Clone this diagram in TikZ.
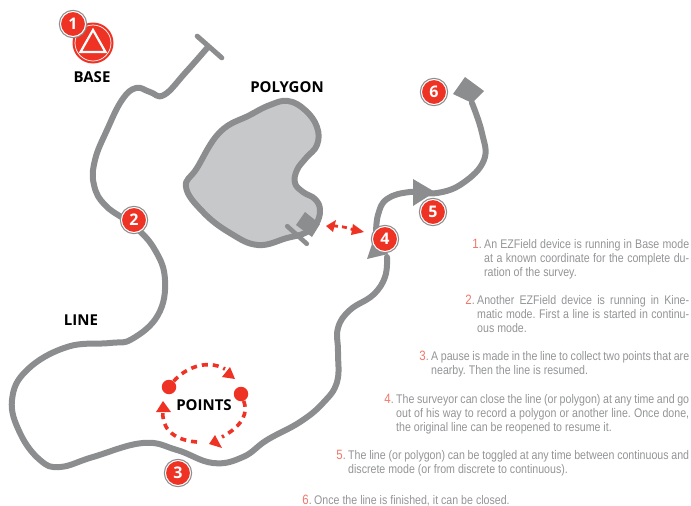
\documentclass[tikz,border=0pt]{standalone}
\usepackage{fontspec}
\usetikzlibrary{arrows.meta,calc}
\setmainfont{Liberation Sans}
\newfontfamily\headf{Open Sans}
\newfontfamily\narrowf[FakeStretch=0.85]{Liberation Sans}
\definecolor{rd}{HTML}{EE3224}
\definecolor{lg}{HTML}{8C8D8F}
\definecolor{pf}{HTML}{C7C8CA}
\definecolor{tx}{HTML}{939496}
\definecolor{nm}{HTML}{F0776A}
\frenchspacing
\newcommand{\jl}[2]{\makebox[#1pt][s]{#2}}
\newcommand{\nmb}[1]{\textcolor{nm}{\fontsize{13.5}{13.5}\selectfont #1}.}
\tikzset{
  trail/.style={draw=lg,line width=6pt,line join=round,line cap=round},
  tip/.style={fill=lg,draw=none},
  badge/.style={circle,fill=rd,draw=white,line width=1pt,minimum size=25pt,inner sep=0pt,text=white,
    font=\headf\bfseries\fontsize{16}{16}\selectfont,preaction={draw=lg,line width=3.4pt}},
  head/.style={font=\headf\bfseries\fontsize{15}{15}\selectfont,text=black,inner sep=0pt},
  para/.style={anchor=base west,inner sep=0pt,text=tx,font=\narrowf\fontsize{12.5}{12.5}\selectfont},
  num/.style={anchor=base east,inner sep=0pt,text=tx,font=\narrowf\fontsize{12.5}{12.5}\selectfont},
  reddash/.style={draw=rd,line width=3.6pt,dash pattern=on 6pt off 5pt},
  dot/.style={circle,fill=rd,minimum size=14.5pt,inner sep=0pt},
}
\begin{document}
\begin{tikzpicture}[x=1pt,y=-1pt]
\useasboundingbox (0,0) rectangle (691,506);
% polygon
\draw[trail,fill=pf] plot[smooth cycle,tension=0.7] coordinates {
 (250,115) (270,105) (288,101) (305,110) (317,127) (317,145) (306,158) (297,170) (295,183) (303,192) (315,199) (320,210) (316,224) (305,233) (287,238) (258,245) (230,233) (203,212) (186,187) (197,168) (220,132)};
% polygon end marker
\fill[lg] (305,212) -- (320,224) -- (312,237) -- (296,225) -- cycle;
\node[inner sep=0pt,minimum size=0pt] (pbar1) at (287,226) {};
\node[inner sep=0pt,minimum size=0pt] (pbar2) at (307,244) {};
\draw[trail,line width=4.6pt] (pbar1) -- (pbar2);
% main line, start to 4
\node[inner sep=0pt,minimum size=0pt] (tbar1) at (197,36) {};
\node[inner sep=0pt,minimum size=0pt] (tbar2) at (222,58) {};
\draw[trail] plot[smooth,tension=0.7] coordinates {
 (208,47) (186,72) (164,95) (150,92) (136,88) (122,100) (107,130) (95,160) (94,185) (106,206) (134,226) (155,250) (165,280) (158,315) (132,339) (110,343) (67,347) (27,370) (12,400) (20,433) (40,460) (60,467) (93,457) (143,443) (177,450) (213,463) (243,457) (267,440) (300,422) (323,403) (337,382) (338,352) (338,328) (350,310) (373,295) (385,277) (387,257)};
\draw[trail,line width=5pt] (tbar1) -- (tbar2);
% after 4
\draw[trail] plot[smooth,tension=0.7] coordinates {
 (376,235) (378,215) (387,199) (410,192) (437,193) (463,183) (484,160) (482,133) (472,103)};
\fill[lg] (465,77) -- (484,91) -- (472,103) -- (453,94) -- cycle;
\fill[tip] (367,259) -- (388,254) -- (376,232) -- cycle;
\fill[tip] (413,179) -- (413,206) -- (435,192) -- cycle;
% base
\node[circle,fill=rd,minimum size=41pt,inner sep=0pt] (baseout) at (93,43) {};
\node[circle,draw=white,line width=0.7pt,minimum size=36pt,inner sep=0pt] (basering) at (93,43) {};
\draw[white,line width=2.2pt,line join=miter] (93,30) -- (105.5,52) -- (80.5,52) -- cycle;
% badges
\node[badge] (b1) at (73,24) {1};
\node[badge] (b2) at (134,220) {2};
\node[badge] (b3) at (178,473) {3};
\node[badge] (b4) at (385,239) {4};
\node[badge] (b5) at (433,212) {5};
\node[badge] (b6) at (434,92) {6};
% labels
\node[head] (lbase) at (92,77) {BASE};
\node[head] (lpoly) at (287,87) {POLYGON};
\node[head] (lline) at (81,320) {LINE};
\node[head] (lpts) at (204,405) {POINTS};
% double arrow
\coordinate (da) at (326,226);
\coordinate (db) at (364,232);
\draw[reddash,line width=2.8pt,dash pattern=on 5pt off 4pt] ($(da)+(7,0)$) .. controls (338,226) and (348,227) .. ($(db)+(-8,-1)$);
\fill[rd] (da) -- (336,220) -- (333,232) -- cycle;
\fill[rd] (db) -- (353,224) -- (351,235) -- cycle;
% points
\node[dot] (d1) at (169,387) {};
\node[dot] (d2) at (241,394) {};
\coordinate (a1) at (235,379);
\coordinate (a2) at (209,444);
\coordinate (c3) at (197,442);
\coordinate (a3) at (163,401);
\draw[reddash] (d1) .. controls (183,370) and (205,358) .. (225,369);
\fill[rd] (a1) -- (222,377) -- (230,367) -- cycle;
\draw[reddash] (d2) .. controls (248,412) and (244,425) .. (222,437);
\fill[rd] (a2) -- (215,435) -- (222,448) -- cycle;
\draw[reddash] (c3) .. controls (170,440) and (161,425) .. (163,410);
\fill[rd] (a3) -- (156,412) -- (171,412) -- cycle;
% text
\node[num] (n1) at (482,248) {\nmb{1}};
\node[para] (t1a) at (484,248) {\jl{205}{An EZField device is running in Base mode}};
\node[para] (t1b) at (484,262) {\jl{205}{at a known coordinate for the complete du-}};
\node[para] (t1c) at (484,276) {ration of the survey.};
\node[num] (n2) at (475,304) {\nmb{2}};
\node[para] (t2a) at (477,304) {\jl{212}{Another EZField device is running in Kine-}};
\node[para] (t2b) at (477,318) {\jl{212}{matic mode. First a line is started in continu-}};
\node[para] (t2c) at (477,332) {ous mode.};
\node[num] (n3) at (429,360) {\nmb{3}};
\node[para] (t3a) at (431,360) {\jl{258}{A pause is made in the line to collect two points that are}};
\node[para] (t3b) at (431,374) {nearby. Then the line is resumed.};
\node[num] (n4) at (394,403) {\nmb{4}};
\node[para] (t4a) at (396,403) {\jl{293}{The surveyor can close the line (or polygon) at any time and go}};
\node[para] (t4b) at (396,417) {\jl{293}{out of his way to record a polygon or another line. Once done,}};
\node[para] (t4c) at (396,431) {the original line can be reopened to resume it.};
\node[num] (n5) at (346,459) {\nmb{5}};
\node[para] (t5a) at (348,459) {\jl{341}{The line (or polygon) can be toggled at any time between continuous and}};
\node[para] (t5b) at (348,473) {discrete mode (or from discrete to continuous).};
\node[num] (n6) at (312,504) {\nmb{6}};
\node[para] (t6a) at (314,504) {Once the line is finished, it can be closed.};
\end{tikzpicture}
\end{document}
